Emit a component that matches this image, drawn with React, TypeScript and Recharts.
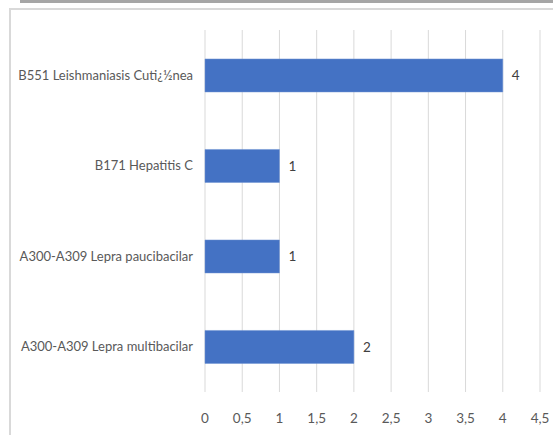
import React from 'react';
import { BarChart, Bar, XAxis, YAxis, CartesianGrid, LabelList } from 'recharts';

const categories = [
  'B551 Leishmaniasis Cuti¿½nea',
  'B171 Hepatitis C',
  'A300-A309 Lepra paucibacilar',
  'A300-A309 Lepra multibacilar',
];
const values = [4, 1, 1, 2];
const xTicks = [0, 0.5, 1, 1.5, 2, 2.5, 3, 3.5, 4, 4.5];

const data = categories.map((name, i) => ({ name, value: values[i] }));

const FONT = "Lato, 'Open Sans', sans-serif";
const fmt = (v: number) => String(v).replace('.', ',');

export default function App() {
  return (
    <div style={{ position: 'fixed', left: 0, top: 0, width: 553, height: 435, background: '#fff', fontFamily: FONT }}>
      <div style={{ position: 'absolute', left: 20, top: 0, width: 533, height: 3, background: '#a6a6a6' }} />
      <div style={{ position: 'absolute', left: 9, top: 8, width: 544, height: 427, borderLeft: '2px solid #d9d9d9', borderTop: '2px solid #d9d9d9', boxSizing: 'border-box' }} />
      <div style={{ position: 'absolute', left: 0, top: 0 }}>
        <BarChart
          width={553}
          height={435}
          data={data}
          layout="vertical"
          margin={{ top: 30, right: 13, left: 0, bottom: 0 }}
          barCategoryGap="32%"
          style={{ overflow: 'visible' }}
        >
          <CartesianGrid horizontal={false} stroke="#d9d9d9" strokeWidth={1} />
          <XAxis
            type="number"
            domain={[0, 4.5]}
            ticks={xTicks}
            tickFormatter={fmt}
            axisLine={false}
            tickLine={false}
            tickSize={0}
            tickMargin={21}
            height={43}
            interval={0}
            tick={{ fill: '#595959', fontSize: 13.5, fontFamily: FONT }}
          />
          <YAxis
            type="category"
            dataKey="name"
            width={205}
            axisLine={false}
            tickLine={false}
            tickSize={0}
            tickMargin={12}
            interval={0}
            tick={{ fill: '#595959', fontSize: 13, fontFamily: FONT }}
          />
          <Bar dataKey="value" fill="#4472c4" stroke="#6f93d3" strokeWidth={0.5} isAnimationActive={false}>
            <LabelList dataKey="value" position="right" offset={9} fill="#404040" fontSize={13.5} fontFamily={FONT} />
          </Bar>
        </BarChart>
      </div>
    </div>
  );
}
